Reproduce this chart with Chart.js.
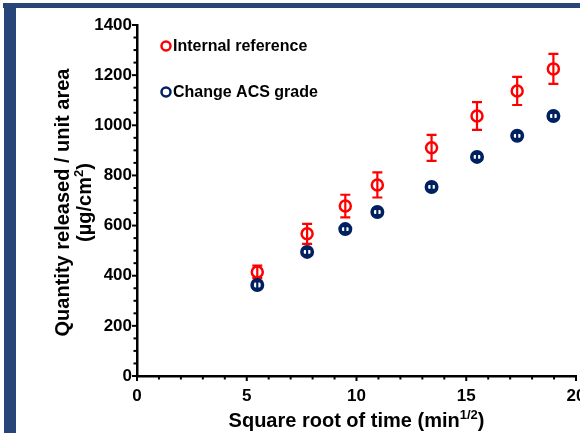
<!DOCTYPE html>
<html>
<head>
<meta charset="utf-8">
<script src="https://cdn.jsdelivr.net/npm/chart.js@4/dist/chart.umd.min.js"></script>
<style>
  html, body { margin: 0; padding: 0; background: #ffffff; }
  #wrap { position: relative; width: 580px; height: 433px; }
  canvas { display: block; }
</style>
</head>
<body>
<div id="wrap"><canvas id="chart" width="580" height="433"></canvas></div>
<script>
// Square root of sampling time (min^1/2)
const sqrtTime = [5.48, 7.75, 9.49, 10.95, 13.42, 15.49, 17.32, 18.97];

// Cumulative quantity released per unit area (µg/cm²) and standard deviations
const internalRef = [415, 567, 678, 762, 910, 1037, 1137, 1225];
const internalErr = [25, 40, 45, 50, 52, 55, 56, 60];
const acsGrade = [363, 495, 586, 654, 754, 874, 958, 1037];
const acsErr = [14, 12, 12, 12, 12, 12, 12, 12];

const seriesLabels = ['Internal reference', 'Change ACS grade'];
const xTickStep = 5, yTickStep = 200;

const FONT = '"Liberation Sans", Arial, sans-serif';
const RED = '#ff0000';
const NAVY = '#002060';
const FRAME = '#284579';

function pts(xs, ys) { return xs.map((x, i) => ({ x: x, y: ys[i] })); }

// Vertical error bars with caps, drawn just before each dataset's markers
const errorBars = {
  id: 'errorBars',
  beforeDatasetDraw(chart, args) {
    const ds = chart.data.datasets[args.index];
    if (!ds.errors) return;
    const { ctx, scales: { x, y } } = chart;
    ctx.save();
    ctx.strokeStyle = ds.borderColor;
    ctx.lineWidth = 2.2;
    ds.data.forEach((p, i) => {
      const e = ds.errors[i];
      const px = x.getPixelForValue(p.x);
      const top = y.getPixelForValue(p.y + e);
      const bot = y.getPixelForValue(p.y - e);
      ctx.beginPath();
      ctx.moveTo(px, top); ctx.lineTo(px, bot);
      ctx.moveTo(px - 5, top); ctx.lineTo(px + 5, top);
      ctx.moveTo(px - 5, bot); ctx.lineTo(px + 5, bot);
      ctx.stroke();
    });
    ctx.restore();
  }
};

// Outward tick marks: long at labelled values, short in between
const tickMarks = {
  id: 'tickMarks',
  afterDatasetsDraw(chart) {
    const { ctx, chartArea: a, scales: { x, y } } = chart;
    ctx.save();
    ctx.strokeStyle = '#000';
    ctx.lineWidth = 2;
    x.ticks.forEach(t => {
      const px = x.getPixelForValue(t.value);
      const len = t.value % xTickStep === 0 ? 5 : 3.5;
      ctx.beginPath();
      ctx.moveTo(px, a.bottom); ctx.lineTo(px, a.bottom + len);
      ctx.stroke();
    });
    y.ticks.forEach(t => {
      const py = y.getPixelForValue(t.value);
      const len = t.value % yTickStep === 0 ? 5 : 3.5;
      ctx.beginPath();
      ctx.moveTo(a.left, py); ctx.lineTo(a.left - len, py);
      ctx.stroke();
    });
    ctx.restore();
  }
};

// Draws a row of text runs, some raised as superscripts, centred on (cx, cy)
function drawRuns(ctx, runs, cx, cy) {
  const widths = runs.map(r => { ctx.font = r.font; return ctx.measureText(r.text).width; });
  let xpos = cx - widths.reduce((s, w) => s + w, 0) / 2;
  runs.forEach((r, i) => {
    ctx.font = r.font;
    ctx.fillText(r.text, xpos, cy + (r.dy || 0));
    xpos += widths[i];
  });
}

// Axis titles (with superscripts) and the in-plot legend
const annotations = {
  id: 'annotations',
  afterDraw(chart) {
    const { ctx, chartArea: a } = chart;
    const title = 'bold 20px ' + FONT;
    const sup = 'bold 13px ' + FONT;
    const legendFont = 'bold 16px ' + FONT;
    ctx.save();
    ctx.fillStyle = '#000';
    ctx.textBaseline = 'middle';
    ctx.textAlign = 'left';

    // x-axis title
    drawRuns(ctx, [
      { text: 'Square root of time (min', font: title },
      { text: '1/2', font: sup, dy: -6 },
      { text: ')', font: title }
    ], (a.left + a.right) / 2, 421);

    // y-axis title, two rotated lines
    const cy = (a.top + a.bottom) / 2 + 2;
    ctx.save();
    ctx.translate(63, cy);
    ctx.rotate(-Math.PI / 2);
    drawRuns(ctx, [{ text: 'Quantity released / unit area', font: title }], 0, 0);
    ctx.restore();
    ctx.save();
    ctx.translate(85, cy);
    ctx.rotate(-Math.PI / 2);
    drawRuns(ctx, [
      { text: '(µg/cm', font: title },
      { text: '2', font: sup, dy: -6 },
      { text: ')', font: title }
    ], 0, 0);
    ctx.restore();

    // legend
    chart.data.datasets.forEach((ds, i) => {
      const ly = a.top + 21 + i * 46;
      const lx = a.left + 29;
      ctx.beginPath();
      ctx.arc(lx, ly, 4.5, 0, Math.PI * 2);
      ctx.lineWidth = 2.5;
      ctx.strokeStyle = ds.borderColor;
      ctx.stroke();
      ctx.fillStyle = '#000';
      ctx.font = legendFont;
      ctx.textAlign = 'left';
      ctx.fillText(ds.label, lx + 7, ly + 1);
    });
    ctx.restore();
  }
};

// Page frame: band along the top and the left edge
const frame = {
  id: 'frame',
  beforeDraw(chart) {
    const { ctx } = chart;
    ctx.save();
    ctx.fillStyle = '#ffffff';
    ctx.fillRect(0, 0, chart.width, chart.height);
    ctx.fillStyle = FRAME;
    ctx.fillRect(3, 3, chart.width - 3, 5);
    ctx.fillRect(4, 3, 12, chart.height - 3);
    ctx.restore();
  }
};

new Chart(document.getElementById('chart'), {
  type: 'scatter',
  data: {
    datasets: [
      {
        label: seriesLabels[0],
        data: pts(sqrtTime, internalRef),
        errors: internalErr,
        borderColor: RED,
        backgroundColor: 'rgba(0,0,0,0)',
        pointRadius: 5.5,
        pointBorderWidth: 2.5,
        pointHoverRadius: 5.5,
        order: 2
      },
      {
        label: seriesLabels[1],
        data: pts(sqrtTime, acsGrade),
        errors: acsErr,
        borderColor: NAVY,
        backgroundColor: 'rgba(0,0,0,0)',
        pointRadius: 5.2,
        pointBorderWidth: 3.6,
        pointHoverRadius: 5.2,
        order: 1
      }
    ]
  },
  options: {
    responsive: false,
    animation: false,
    events: [],
    layout: { autoPadding: false, padding: { top: 25, right: 4, bottom: 0, left: 0 } },
    plugins: {
      legend: { display: false },
      tooltip: { enabled: false },
      title: { display: false }
    },
    scales: {
      x: {
        type: 'linear',
        min: 0, max: 20,
        afterFit(s) { s.height = 57; s.paddingLeft = 0; s.paddingRight = 0; },
        border: { display: true, color: '#000', width: 2.5 },
        grid: { display: false, drawTicks: false },
        ticks: {
          stepSize: 1,
          autoSkip: false,
          maxRotation: 0,
          padding: 10,
          color: '#000',
          font: { family: FONT, size: 17, weight: 'bold' },
          callback: v => (v % xTickStep === 0 ? String(v) : '')
        }
      },
      y: {
        type: 'linear',
        min: 0, max: 1400,
        afterFit(s) { s.width = 137; s.paddingTop = 0; s.paddingBottom = 0; },
        border: { display: true, color: '#000', width: 2.5 },
        grid: { display: false, drawTicks: false },
        ticks: {
          stepSize: 50,
          autoSkip: false,
          padding: 5,
          color: '#000',
          font: { family: FONT, size: 17, weight: 'bold' },
          callback: v => (v % yTickStep === 0 ? String(v) : '')
        }
      }
    }
  },
  plugins: [frame, errorBars, tickMarks, annotations]
});
</script>
</body>
</html>
